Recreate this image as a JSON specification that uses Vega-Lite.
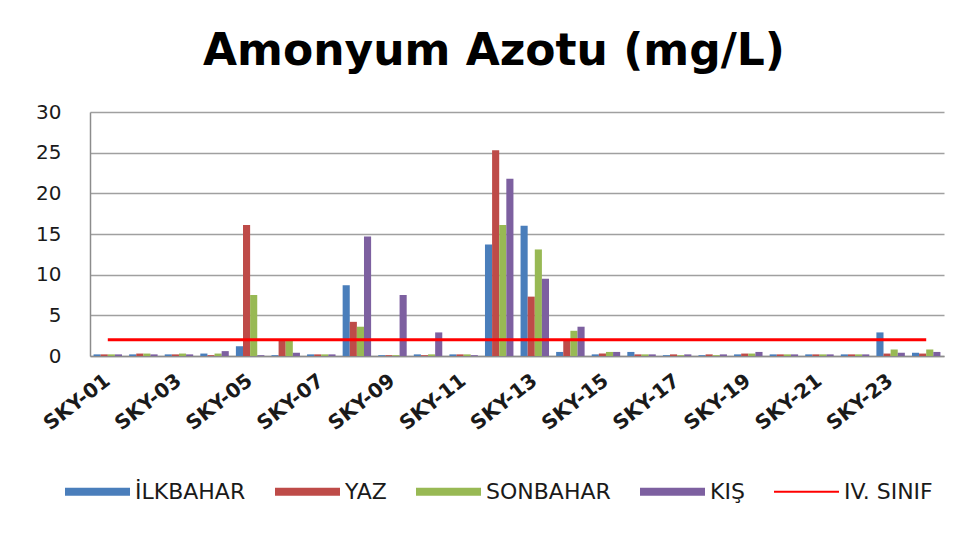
{
  "$schema": "https://vega.github.io/schema/vega-lite/v6.json",
  "autosize": {"type": "none"},
  "width": 854,
  "height": 244,
  "padding": {"left": 90, "top": 112, "right": 36, "bottom": 177},
  "background": "white",
  "title": {
    "text": "Amonyum Azotu (mg/L)",
    "font": "DejaVu Sans",
    "fontSize": 44,
    "fontWeight": "bold",
    "color": "#000000",
    "anchor": "middle",
    "dx": -23,
    "offset": 28
  },
  "datasets": {
    "bars": [
      {"site": "SKY-01", "season": "İLKBAHAR", "value": 0.2}, {"site": "SKY-01", "season": "YAZ", "value": 0.2}, {"site": "SKY-01", "season": "SONBAHAR", "value": 0.2}, {"site": "SKY-01", "season": "KIŞ", "value": 0.2},
      {"site": "SKY-02", "season": "İLKBAHAR", "value": 0.2}, {"site": "SKY-02", "season": "YAZ", "value": 0.3}, {"site": "SKY-02", "season": "SONBAHAR", "value": 0.3}, {"site": "SKY-02", "season": "KIŞ", "value": 0.2},
      {"site": "SKY-03", "season": "İLKBAHAR", "value": 0.2}, {"site": "SKY-03", "season": "YAZ", "value": 0.2}, {"site": "SKY-03", "season": "SONBAHAR", "value": 0.3}, {"site": "SKY-03", "season": "KIŞ", "value": 0.2},
      {"site": "SKY-04", "season": "İLKBAHAR", "value": 0.3}, {"site": "SKY-04", "season": "YAZ", "value": 0.1}, {"site": "SKY-04", "season": "SONBAHAR", "value": 0.3}, {"site": "SKY-04", "season": "KIŞ", "value": 0.6},
      {"site": "SKY-05", "season": "İLKBAHAR", "value": 1.2}, {"site": "SKY-05", "season": "YAZ", "value": 16.1}, {"site": "SKY-05", "season": "SONBAHAR", "value": 7.5}, {"site": "SKY-05", "season": "KIŞ", "value": 0.1},
      {"site": "SKY-06", "season": "İLKBAHAR", "value": 0.1}, {"site": "SKY-06", "season": "YAZ", "value": 1.9}, {"site": "SKY-06", "season": "SONBAHAR", "value": 1.9}, {"site": "SKY-06", "season": "KIŞ", "value": 0.4},
      {"site": "SKY-07", "season": "İLKBAHAR", "value": 0.2}, {"site": "SKY-07", "season": "YAZ", "value": 0.2}, {"site": "SKY-07", "season": "SONBAHAR", "value": 0.2}, {"site": "SKY-07", "season": "KIŞ", "value": 0.2},
      {"site": "SKY-08", "season": "İLKBAHAR", "value": 8.7}, {"site": "SKY-08", "season": "YAZ", "value": 4.2}, {"site": "SKY-08", "season": "SONBAHAR", "value": 3.6}, {"site": "SKY-08", "season": "KIŞ", "value": 14.7},
      {"site": "SKY-09", "season": "İLKBAHAR", "value": 0.1}, {"site": "SKY-09", "season": "YAZ", "value": 0.1}, {"site": "SKY-09", "season": "SONBAHAR", "value": 0.1}, {"site": "SKY-09", "season": "KIŞ", "value": 7.5},
      {"site": "SKY-10", "season": "İLKBAHAR", "value": 0.2}, {"site": "SKY-10", "season": "YAZ", "value": 0.1}, {"site": "SKY-10", "season": "SONBAHAR", "value": 0.2}, {"site": "SKY-10", "season": "KIŞ", "value": 2.9},
      {"site": "SKY-11", "season": "İLKBAHAR", "value": 0.2}, {"site": "SKY-11", "season": "YAZ", "value": 0.2}, {"site": "SKY-11", "season": "SONBAHAR", "value": 0.2}, {"site": "SKY-11", "season": "KIŞ", "value": 0.1},
      {"site": "SKY-12", "season": "İLKBAHAR", "value": 13.7}, {"site": "SKY-12", "season": "YAZ", "value": 25.3}, {"site": "SKY-12", "season": "SONBAHAR", "value": 16.1}, {"site": "SKY-12", "season": "KIŞ", "value": 21.8},
      {"site": "SKY-13", "season": "İLKBAHAR", "value": 16.0}, {"site": "SKY-13", "season": "YAZ", "value": 7.3}, {"site": "SKY-13", "season": "SONBAHAR", "value": 13.1}, {"site": "SKY-13", "season": "KIŞ", "value": 9.5},
      {"site": "SKY-14", "season": "İLKBAHAR", "value": 0.5}, {"site": "SKY-14", "season": "YAZ", "value": 2.0}, {"site": "SKY-14", "season": "SONBAHAR", "value": 3.1}, {"site": "SKY-14", "season": "KIŞ", "value": 3.6},
      {"site": "SKY-15", "season": "İLKBAHAR", "value": 0.2}, {"site": "SKY-15", "season": "YAZ", "value": 0.3}, {"site": "SKY-15", "season": "SONBAHAR", "value": 0.5}, {"site": "SKY-15", "season": "KIŞ", "value": 0.5},
      {"site": "SKY-16", "season": "İLKBAHAR", "value": 0.5}, {"site": "SKY-16", "season": "YAZ", "value": 0.2}, {"site": "SKY-16", "season": "SONBAHAR", "value": 0.2}, {"site": "SKY-16", "season": "KIŞ", "value": 0.2},
      {"site": "SKY-17", "season": "İLKBAHAR", "value": 0.1}, {"site": "SKY-17", "season": "YAZ", "value": 0.2}, {"site": "SKY-17", "season": "SONBAHAR", "value": 0.1}, {"site": "SKY-17", "season": "KIŞ", "value": 0.2},
      {"site": "SKY-18", "season": "İLKBAHAR", "value": 0.1}, {"site": "SKY-18", "season": "YAZ", "value": 0.2}, {"site": "SKY-18", "season": "SONBAHAR", "value": 0.1}, {"site": "SKY-18", "season": "KIŞ", "value": 0.2},
      {"site": "SKY-19", "season": "İLKBAHAR", "value": 0.2}, {"site": "SKY-19", "season": "YAZ", "value": 0.3}, {"site": "SKY-19", "season": "SONBAHAR", "value": 0.3}, {"site": "SKY-19", "season": "KIŞ", "value": 0.5},
      {"site": "SKY-20", "season": "İLKBAHAR", "value": 0.2}, {"site": "SKY-20", "season": "YAZ", "value": 0.2}, {"site": "SKY-20", "season": "SONBAHAR", "value": 0.2}, {"site": "SKY-20", "season": "KIŞ", "value": 0.2},
      {"site": "SKY-21", "season": "İLKBAHAR", "value": 0.2}, {"site": "SKY-21", "season": "YAZ", "value": 0.2}, {"site": "SKY-21", "season": "SONBAHAR", "value": 0.2}, {"site": "SKY-21", "season": "KIŞ", "value": 0.2},
      {"site": "SKY-22", "season": "İLKBAHAR", "value": 0.2}, {"site": "SKY-22", "season": "YAZ", "value": 0.2}, {"site": "SKY-22", "season": "SONBAHAR", "value": 0.2}, {"site": "SKY-22", "season": "KIŞ", "value": 0.2},
      {"site": "SKY-23", "season": "İLKBAHAR", "value": 2.9}, {"site": "SKY-23", "season": "YAZ", "value": 0.3}, {"site": "SKY-23", "season": "SONBAHAR", "value": 0.8}, {"site": "SKY-23", "season": "KIŞ", "value": 0.4},
      {"site": "SKY-24", "season": "İLKBAHAR", "value": 0.4}, {"site": "SKY-24", "season": "YAZ", "value": 0.3}, {"site": "SKY-24", "season": "SONBAHAR", "value": 0.8}, {"site": "SKY-24", "season": "KIŞ", "value": 0.5}
    ],
    "limit": [
      {"site": "SKY-01", "season": "IV. SINIF", "value": 2}, {"site": "SKY-02", "season": "IV. SINIF", "value": 2},
      {"site": "SKY-03", "season": "IV. SINIF", "value": 2}, {"site": "SKY-04", "season": "IV. SINIF", "value": 2},
      {"site": "SKY-05", "season": "IV. SINIF", "value": 2}, {"site": "SKY-06", "season": "IV. SINIF", "value": 2},
      {"site": "SKY-07", "season": "IV. SINIF", "value": 2}, {"site": "SKY-08", "season": "IV. SINIF", "value": 2},
      {"site": "SKY-09", "season": "IV. SINIF", "value": 2}, {"site": "SKY-10", "season": "IV. SINIF", "value": 2},
      {"site": "SKY-11", "season": "IV. SINIF", "value": 2}, {"site": "SKY-12", "season": "IV. SINIF", "value": 2},
      {"site": "SKY-13", "season": "IV. SINIF", "value": 2}, {"site": "SKY-14", "season": "IV. SINIF", "value": 2},
      {"site": "SKY-15", "season": "IV. SINIF", "value": 2}, {"site": "SKY-16", "season": "IV. SINIF", "value": 2},
      {"site": "SKY-17", "season": "IV. SINIF", "value": 2}, {"site": "SKY-18", "season": "IV. SINIF", "value": 2},
      {"site": "SKY-19", "season": "IV. SINIF", "value": 2}, {"site": "SKY-20", "season": "IV. SINIF", "value": 2},
      {"site": "SKY-21", "season": "IV. SINIF", "value": 2}, {"site": "SKY-22", "season": "IV. SINIF", "value": 2},
      {"site": "SKY-23", "season": "IV. SINIF", "value": 2}, {"site": "SKY-24", "season": "IV. SINIF", "value": 2}
    ]
  },
  "encoding": {
    "x": {
      "field": "site",
      "type": "nominal",
      "sort": null,
      "scale": {"paddingInner": 0.2, "paddingOuter": 0.1},
      "axis": {
        "title": null,
        "values": ["SKY-01", "SKY-03", "SKY-05", "SKY-07", "SKY-09", "SKY-11", "SKY-13", "SKY-15", "SKY-17", "SKY-19", "SKY-21", "SKY-23"],
        "labelAngle": -38,
        "labelAlign": "right",
        "labelBaseline": "middle",
        "labelFont": "DejaVu Sans",
        "labelFontSize": 20,
        "labelFontWeight": "bold",
        "labelColor": "#1a1a1a",
        "ticks": false,
        "labelPadding": 22,
        "labelOverlap": false,
        "domainColor": "#8c8c8c",
        "domainWidth": 1.5,
        "grid": false
      }
    },
    "y": {
      "field": "value",
      "type": "quantitative",
      "scale": {"domain": [0, 30], "nice": false},
      "axis": {
        "title": null,
        "values": [0, 5, 10, 15, 20, 25, 30],
        "labelFont": "DejaVu Sans",
        "labelFontSize": 20,
        "labelColor": "#1a1a1a",
        "labelPadding": 29,
        "ticks": false,
        "domainColor": "#8c8c8c",
        "domainWidth": 1.5,
        "gridColor": "#a0a0a0",
        "gridWidth": 1.5
      }
    },
    "color": {
      "field": "season",
      "type": "nominal",
      "scale": {
        "domain": ["İLKBAHAR", "YAZ", "SONBAHAR", "KIŞ", "IV. SINIF"],
        "range": ["#4A7EBB", "#BE4B48", "#98B954", "#7D60A0", "#FF0000"]
      },
      "legend": {
        "title": null,
        "orient": "none",
        "direction": "horizontal",
        "legendX": -25,
        "legendY": 347,
        "labelFont": "DejaVu Sans",
        "labelFontSize": 22,
        "labelColor": "#1a1a1a",
        "symbolSize": 4225,
        "symbolStrokeWidth": 0,
        "labelOffset": 5,
        "columnPadding": 29,
        "encode": {
          "symbols": {
            "update": {
              "shape": {"signal": "datum.value === 'IV. SINIF' ? 'M-1,-0.03H1V0.03H-1Z' : 'M-1,-0.125H1V0.125H-1Z'"},
              "strokeWidth": {"value": 0}
            }
          }
        }
      }
    }
  },
  "layer": [
    {
      "data": {"name": "bars"},
      "mark": {"type": "bar"},
      "encoding": {
        "xOffset": {
          "field": "season",
          "type": "nominal",
          "scale": {"domain": ["İLKBAHAR", "YAZ", "SONBAHAR", "KIŞ"], "paddingInner": 0, "paddingOuter": 0}
        }
      }
    },
    {
      "data": {"name": "limit"},
      "mark": {"type": "line", "strokeWidth": 3},
      "encoding": {}
    }
  ],
  "config": {
    "view": {"stroke": null},
    "axis": {"labelFont": "DejaVu Sans"}
  }
}
